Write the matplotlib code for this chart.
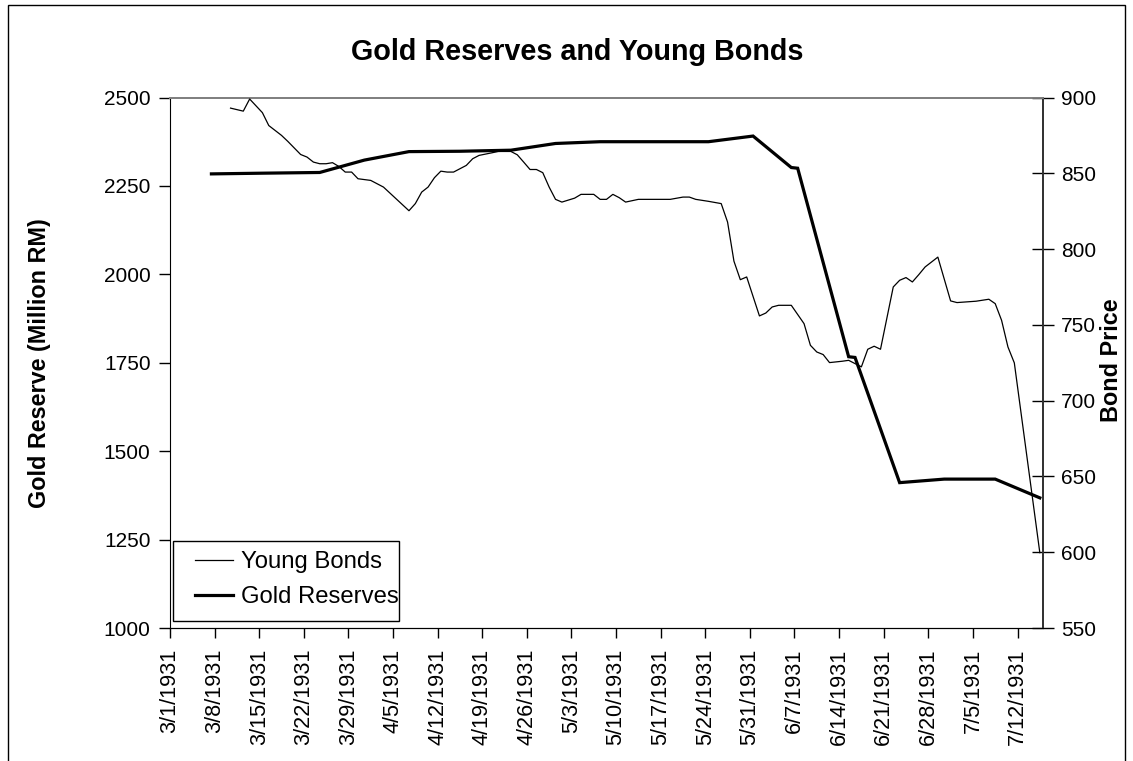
import matplotlib
matplotlib.use("Agg")
import matplotlib.pyplot as plt
from matplotlib.patches import Rectangle
import pandas as pd

plt.rcParams['font.family'] = ['Liberation Sans', 'DejaVu Sans']

# ---------------- data ----------------
gold_dates = ["3/7/1931", "3/15/1931", "3/24/1931", "3/31/1931", "4/7/1931",
              "4/15/1931", "4/23/1931", "4/30/1931", "5/7/1931", "5/15/1931",
              "5/24/1931", "5/31/1931", "6/6/1931", "6/7/1931", "6/15/1931",
              "6/16/1931", "6/23/1931", "6/30/1931", "7/8/1931", "7/15/1931"]
gold_values = [2284, 2286, 2288, 2323, 2347,
               2348, 2351, 2370, 2375, 2375,
               2375, 2391, 2302, 2300, 1767,
               1765, 1411, 1421, 1421, 1368]

bond_dates = ["3/10/1931", "3/12/1931", "3/13/1931", "3/15/1931", "3/16/1931",
              "3/18/1931", "3/19/1931", "3/21/1931", "3/22/1931", "3/23/1931",
              "3/24/1931", "3/25/1931", "3/26/1931", "3/27/1931", "3/28/1931",
              "3/29/1931", "3/30/1931", "4/1/1931", "4/3/1931", "4/7/1931",
              "4/8/1931", "4/9/1931", "4/10/1931", "4/11/1931", "4/12/1931",
              "4/13/1931", "4/14/1931", "4/16/1931", "4/17/1931", "4/18/1931",
              "4/20/1931", "4/21/1931", "4/23/1931", "4/24/1931", "4/25/1931",
              "4/26/1931", "4/27/1931", "4/28/1931", "4/29/1931", "4/30/1931",
              "5/1/1931", "5/3/1931", "5/4/1931", "5/6/1931", "5/7/1931",
              "5/8/1931", "5/9/1931", "5/10/1931", "5/11/1931", "5/13/1931",
              "5/18/1931", "5/20/1931", "5/21/1931", "5/22/1931", "5/24/1931",
              "5/26/1931", "5/27/1931", "5/28/1931", "5/29/1931", "5/30/1931",
              "6/1/1931", "6/2/1931", "6/3/1931", "6/4/1931", "6/6/1931",
              "6/8/1931", "6/9/1931", "6/10/1931", "6/11/1931", "6/12/1931",
              "6/14/1931", "6/15/1931", "6/17/1931", "6/18/1931", "6/19/1931",
              "6/20/1931", "6/22/1931", "6/23/1931", "6/24/1931", "6/25/1931",
              "6/26/1931", "6/27/1931", "6/29/1931", "7/1/1931", "7/2/1931",
              "7/5/1931", "7/7/1931", "7/8/1931", "7/9/1931", "7/10/1931",
              "7/11/1931", "7/15/1931"]
bond_values = [893, 891, 899, 890, 881.5,
               875, 871, 862.4, 860.7, 857.4,
               856.3, 856.3, 857, 854.5, 850.8,
               850.8, 846.4, 845.3, 840.9, 825.3,
               830, 837.6, 840.9, 847.1, 851.4,
               850.8, 850.8, 855.2, 859.6, 861.8,
               863.5, 864.4, 864.4, 862.2, 857.4,
               852.5, 852.5, 850.4, 840.9, 832.8,
               831, 833.6, 836.1, 836.1, 832.8,
               832.8, 836.1, 833.9, 831, 832.8,
               832.8, 834.3, 834.3, 832.8, 831.5,
               830, 817.8, 792, 779.8, 781.6,
               755.9, 757.8, 761.8, 762.9, 762.9,
               750.8, 736.5, 732.1, 730.4, 725.1,
               726, 726.6, 722.3, 733.9, 735.9,
               733.9, 775, 779.4, 781.2, 778.3,
               783.1, 788.2, 794.7, 765.8, 764.7,
               765.6, 766.9, 764, 753, 735.4,
               724.9, 599.7]

tick_labels = ["3/1/1931", "3/8/1931", "3/15/1931", "3/22/1931", "3/29/1931",
               "4/5/1931", "4/12/1931", "4/19/1931", "4/26/1931", "5/3/1931",
               "5/10/1931", "5/17/1931", "5/24/1931", "5/31/1931", "6/7/1931",
               "6/14/1931", "6/21/1931", "6/28/1931", "7/5/1931", "7/12/1931"]

title = "Gold Reserves and Young Bonds"
left_label = "Gold Reserve (Million RM)"
right_label = "Bond Price"

# ---------------- plot ----------------
fmt = "%m/%d/%Y"
half_day = pd.Timedelta(hours=12)
gx = pd.to_datetime(gold_dates, format=fmt) + half_day
bx = pd.to_datetime(bond_dates, format=fmt) + half_day
ticks = pd.to_datetime(tick_labels, format=fmt)

W, H = 1133, 761
fig = plt.figure(figsize=(W / 100, H / 100), dpi=100)
fig.patch.set_facecolor('white')

L, R, T, B = 170, 1043, 97.5, 628
ax = fig.add_axes([L / W, 1 - B / H, (R - L) / W, (B - T) / H])
ax2 = ax.twinx()

fs_y = 15
fs_x = 15.6
fs_leg = 17.2
fs_lab = 16.8

ln_gold, = ax.plot(gx, gold_values, color='black', lw=2.3, solid_joinstyle='miter',
                   label='Gold Reserves', zorder=3)
ln_bond, = ax2.plot(bx, bond_values, color='black', lw=0.9, label='Young Bonds', zorder=3)

ax.set_xlim(pd.Timestamp("1931-03-01"), pd.Timestamp("1931-07-16"))
ax.set_ylim(1000, 2500)
ax2.set_ylim(550, 900)
ax.set_yticks([1000, 1250, 1500, 1750, 2000, 2250, 2500])
ax2.set_yticks([550, 600, 650, 700, 750, 800, 850, 900])

ax.set_xticks(ticks)
ax.set_xticklabels(tick_labels, rotation=90, fontsize=fs_x)
ax.tick_params(axis='x', direction='out', length=7, width=1, pad=8)
ax.tick_params(axis='y', direction='out', length=8, width=1, labelsize=fs_y, pad=6)
ax2.tick_params(axis='y', direction='inout', length=16, width=1, labelsize=fs_y, pad=5)

for a in (ax, ax2):
    a.spines['top'].set_color('#808080')
    a.spines['top'].set_linewidth(1.3)
    a.spines['left'].set_color('black')
    a.spines['bottom'].set_color('black')
    a.spines['right'].set_color('#333333')
    a.spines['right'].set_linewidth(1.3)
ax2.spines['left'].set_visible(False)

fig.text(40 / W, 1 - 363 / H, left_label, fontsize=fs_lab, fontweight='bold',
         rotation=90, ha='center', va='center')
fig.text(1111 / W, 1 - 360 / H, right_label, fontsize=fs_lab, fontweight='bold',
         rotation=90, ha='center', va='center')

fig.text(577 / W, 1 - 52 / H, title, fontsize=20.7, fontweight='bold',
         ha='center', va='center')

leg = ax2.legend([ln_bond, ln_gold], ['Young Bonds', 'Gold Reserves'],
                 loc='center left', bbox_to_anchor=(195 / W, 1 - 579.5 / H),
                 bbox_transform=fig.transFigure, fontsize=fs_leg, frameon=False,
                 borderpad=0, labelspacing=0.55, handlelength=1.6,
                 handletextpad=0.34, borderaxespad=0)
# legend frame (white box, black edge) drawn behind legend contents
ax2.add_patch(Rectangle((173 / W, 1 - 621 / H), (399 - 173) / W, (621 - 541) / H,
                        transform=fig.transFigure, facecolor='white',
                        edgecolor='black', lw=1.0, zorder=5))
leg.set_zorder(6)

fig.patches.append(Rectangle((8 / W, -0.01), (1125 - 8) / W, 1 - 5 / H + 0.01,
                             transform=fig.transFigure, fill=False,
                             edgecolor='black', lw=1.0))

fig.savefig("out.png", dpi=100)
